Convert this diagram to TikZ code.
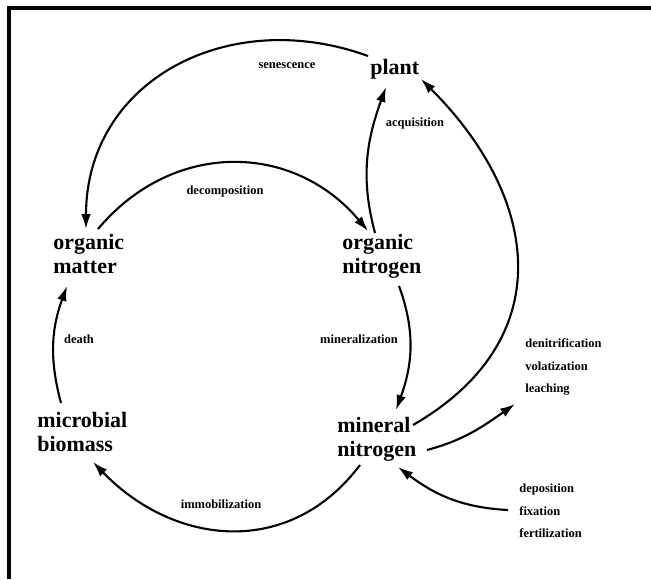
\documentclass[tikz,border=0pt]{standalone}
\usepackage{fontspec}
\setmainfont{Liberation Serif}
\usetikzlibrary{arrows.meta,positioning,calc}

\tikzset{
  pool/.style={font=\fontsize{12.5}{13.6}\selectfont\bfseries, align=left, inner sep=0pt, anchor=north west},
  flux/.style={font=\fontsize{7.1}{12.8}\selectfont\bfseries, align=left, inner sep=0pt},
  flow/.style={line width=1.2pt, -{Latex[length=8.5pt,width=5.5pt]}}
}

\begin{document}
\begin{tikzpicture}[x=0.02cm,y=0.02cm]
\useasboundingbox (0,0) rectangle (651,579);
\draw[line width=2.2pt] (9,0) |- (651,571);

\node[pool] (plant) at (370,520) {plant};
\node[pool] (om) at (53,345) {organic\\matter};
\node[pool] (on) at (342,345) {organic\\nitrogen};
\node[pool] (mb) at (37,167) {microbial\\biomass};
\node[pool] (mn) at (337,162) {mineral\\nitrogen};

\node[flux] (sen) at (287,513) {senescence};
\node[flux] (acq) at (415,456) {acquisition};
\node[flux] (dec) at (225,388) {decomposition};
\node[flux] (dth) at (79,240) {death};
\node[flux] (mnz) at (359,240) {mineralization};
\node[flux] (imm) at (221,75) {immobilization};
\node[flux, anchor=west] (loss) at (525,212) {denitrification\\volatization\\leaching};
\node[flux, anchor=west] (inp) at (519,68) {deposition\\fixation\\fertilization};

\draw[flow] ($(plant.north west)+(-2,3)$) to[out=160,in=90,looseness=1.15] ($(om.north west)+(33,5)$);
\draw[flow] ($(om.north west)+(45,5)$) to[out=50,in=130,looseness=1.1] ($(on.north west)+(26,3)$);
\draw[flow] ($(on.north west)+(33,1)$) to[out=105,in=-110] ($(plant.north west)+(16,-28)$);
\draw[flow] ($(on.north west)+(57,-52)$) to[out=-70,in=70] ($(mn.north west)+(59,7)$);
\draw[flow] ($(mn.north west)+(76,-8)$) to[out=30,in=-45,looseness=1.25] ($(plant.north west)+(51,-20)$);
\draw[flow] ($(mn.north west)+(90,-33)$) to[out=15,in=-145] ($(loss.west)+(-10,-37)$);
\draw[flow] ($(inp.west)+(-11,1)$) to[out=177,in=-37] ($(mn.north west)+(61,-50)$);
\draw[flow] ($(mn.north west)+(23,-48)$) to[out=-127,in=-46,looseness=1.12] ($(mb.north west)+(56,-50)$);
\draw[flow] ($(mb.north west)+(24,9)$) to[out=105,in=-110] ($(om.north west)+(14,-52)$);
\end{tikzpicture}
\end{document}
